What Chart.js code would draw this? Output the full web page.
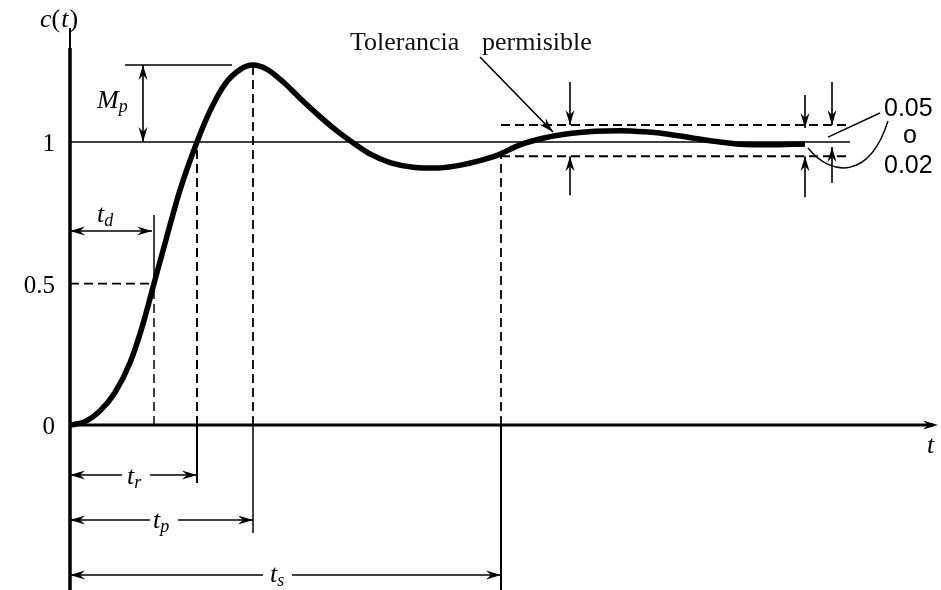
<!DOCTYPE html>
<html>
<head>
<meta charset="utf-8">
<title>Respuesta al escalón</title>
<script src="https://cdn.jsdelivr.net/npm/chart.js@4.4.1/dist/chart.umd.min.js"></script>
<style>
  body { margin: 0; background: #fff; }
</style>
</head>
<body>
<canvas id="respuesta" width="941" height="590"></canvas>
<script>
// c(t) leída punto a punto sobre la curva
var tiempo = [0, 0.15, 0.30, 0.45, 0.60, 0.72, 0.84, 0.96, 1.10, 1.27, 1.40, 1.55, 1.70, 1.83,
	1.97, 2.13, 2.30, 2.50, 2.65, 2.82, 3.00, 3.20, 3.45, 3.65, 3.85, 4.05, 4.27, 4.50, 4.75, 5.00,
	5.25, 5.50, 5.75, 6.00, 6.25, 6.50, 6.75, 7.00, 7.35];
var salida = [0, 0.012, 0.05, 0.115, 0.22, 0.345, 0.5, 0.655, 0.83, 1.0, 1.11, 1.205, 1.256, 1.272,
	1.257, 1.213, 1.155, 1.09, 1.045, 1.0, 0.958, 0.927, 0.91, 0.908, 0.915, 0.93, 0.953, 0.99, 1.015, 1.03,
	1.038, 1.04, 1.036, 1.027, 1.013, 1.0, 0.991, 0.99, 0.993];

// tiempos característicos y banda de tolerancia
var td = 0.84, tr = 1.27, tp = 1.83, ts = 4.31;
var pico = 1.272;
var bandaSup = 1.06, bandaInf = 0.95;
var finBanda = 7.8;
var marcasY = [0, 0.5, 1];
var etiquetasY = ['0', '0.5', '1'];
var flechasBanda = [5.0, 7.35, 7.62];

var serif = "'Liberation Serif', 'DejaVu Serif', serif";
var sans = "'Liberation Sans', 'DejaVu Sans', sans-serif";

function tramo(x1, y1, x2, y2, ancho, guiones) {
	return {
		data: [{x: x1, y: y1}, {x: x2, y: y2}],
		borderColor: '#000',
		borderWidth: ancho,
		borderDash: guiones || [],
		pointRadius: 0,
		fill: false
	};
}

function punta(ctx, x, y, ang) {
	ctx.save();
	ctx.translate(x, y);
	ctx.rotate(ang);
	ctx.beginPath();
	ctx.moveTo(0, 0);
	ctx.lineTo(-15, -4.5);
	ctx.lineTo(-10, 0);
	ctx.lineTo(-15, 4.5);
	ctx.closePath();
	ctx.fill();
	ctx.restore();
}

function flecha(ctx, x1, y1, x2, y2, ini, fin, ancho) {
	ctx.lineWidth = ancho || 1.6;
	ctx.beginPath();
	ctx.moveTo(x1, y1);
	ctx.lineTo(x2, y2);
	ctx.stroke();
	var ang = Math.atan2(y2 - y1, x2 - x1);
	if (fin) punta(ctx, x2, y2, ang);
	if (ini) punta(ctx, x1, y1, ang + Math.PI);
}

function linea(ctx, x1, y1, x2, y2, ancho) {
	ctx.lineWidth = ancho;
	ctx.beginPath();
	ctx.moveTo(x1, y1);
	ctx.lineTo(x2, y2);
	ctx.stroke();
}

// texto con subíndice: letra cursiva + subíndice más pequeño
function sub(ctx, letra, indice, x, y) {
	ctx.font = 'italic 26px ' + serif;
	ctx.fillText(letra, x, y);
	var w = ctx.measureText(letra).width;
	ctx.font = 'italic 18px ' + serif;
	ctx.fillText(indice, x + w, y + 4);
}

var anotaciones = {
	id: 'anotaciones',
	afterDatasetsDraw: function(chart) {
		var ctx = chart.ctx;
		var sx = chart.scales.x, sy = chart.scales.y;
		var X = function(t) { return sx.getPixelForValue(t); };
		var Y = function(v) { return sy.getPixelForValue(v); };
		var area = chart.chartArea;
		var x0 = X(0), y0 = Y(0);

		ctx.save();
		ctx.strokeStyle = '#000';
		ctx.fillStyle = '#000';

		// ejes
		linea(ctx, x0, area.top, x0, area.top + 20, 2);
		linea(ctx, x0, area.top + 20, x0, area.bottom, 3.5);
		linea(ctx, x0, y0, area.right - 2, y0, 3);
		punta(ctx, area.right + 3, y0, 0);

		// prolongaciones bajo el eje y cotas de tiempo
		linea(ctx, X(tr), y0, X(tr), y0 + 58, 2);
		linea(ctx, X(tp), y0, X(tp), y0 + 108, 1.5);
		linea(ctx, X(ts), y0, X(ts), area.bottom, 2);

		flecha(ctx, x0, y0 + 50, X(tr) - 75, y0 + 50, true, false);
		flecha(ctx, X(tr) - 47, y0 + 50, X(tr), y0 + 50, false, true);
		flecha(ctx, x0, y0 + 95, X(tp) - 103, y0 + 95, true, false);
		flecha(ctx, X(tp) - 75, y0 + 95, X(tp), y0 + 95, false, true);
		flecha(ctx, x0, y0 + 150, X(ts) - 238, y0 + 150, true, false);
		flecha(ctx, X(ts) - 209, y0 + 150, X(ts), y0 + 150, false, true);

		sub(ctx, 't', 'r', X(tr) - 70, y0 + 59);
		sub(ctx, 't', 'p', X(tp) - 100, y0 + 103);
		sub(ctx, 't', 's', X(ts) - 231, y0 + 157);

		// retardo td
		linea(ctx, X(td), Y(0.5), X(td), y0 - 210, 1.5);
		flecha(ctx, x0, y0 - 194, X(td) - 2, y0 - 194, true, true);
		sub(ctx, 't', 'd', x0 + 27, y0 - 203);

		// sobreelongación Mp
		linea(ctx, x0 + 55, Y(pico), X(tp) - 21, Y(pico), 1.5);
		flecha(ctx, x0 + 73, Y(pico), x0 + 73, Y(1), true, true);
		sub(ctx, 'M', 'p', x0 + 27, Y(pico) + 43);

		// marcas del eje vertical
		ctx.font = '25px ' + serif;
		ctx.textAlign = 'right';
		for (var i = 0; i < marcasY.length; i++) {
			ctx.fillText(etiquetasY[i], x0 - 15, Y(marcasY[i]) + 9);
		}
		ctx.textAlign = 'left';

		// c(t) y t
		ctx.font = 'italic 26px ' + serif;
		ctx.fillText('c', 40, 27);
		var w = ctx.measureText('c').width;
		ctx.font = '26px ' + serif;
		ctx.fillText('(', 40 + w, 27);
		w += ctx.measureText('(').width;
		ctx.font = 'italic 26px ' + serif;
		ctx.fillText('t', 41 + w, 27);
		w += ctx.measureText('t').width + 1;
		ctx.font = '26px ' + serif;
		ctx.fillText(')', 41 + w, 27);

		ctx.font = 'italic 26px ' + serif;
		ctx.fillText('t', area.right - 8, y0 + 28);

		// tolerancia permisible
		ctx.font = '26px ' + serif;
		ctx.fillStyle = '#111';
		ctx.fillText('Tolerancia', 350, 50);
		ctx.fillText('permisible', 482, 50);
		ctx.fillStyle = '#000';
		flecha(ctx, 480, 57, X(ts) + 52, Y(bandaSup) + 7, false, true, 1.6);

		// flechas de la banda
		var a = X(flechasBanda[0]);
		flecha(ctx, a, Y(bandaSup) - 43, a, Y(bandaSup), false, true);
		flecha(ctx, a, Y(bandaInf) + 39, a, Y(bandaInf), false, true);
		a = X(flechasBanda[1]);
		flecha(ctx, a, Y(bandaSup) - 30, a, Y(bandaSup) + 3, false, true);
		flecha(ctx, a, Y(bandaInf) + 41, a, Y(bandaInf), false, true);
		a = X(flechasBanda[2]);
		flecha(ctx, a, Y(bandaSup) - 43, a, Y(bandaSup), false, true);
		flecha(ctx, a, Y(1) + 41, a, Y(1) + 5, false, true);

		// indicación 0.05 o 0.02
		linea(ctx, X(flechasBanda[2]) - 4, Y(1) - 5, 880, 113, 1.4);
		ctx.lineWidth = 1.4;
		ctx.beginPath();
		ctx.moveTo(888, 121);
		ctx.bezierCurveTo(870, 178, 832, 178, X(flechasBanda[1]) + 3, Y(1) + 6);
		ctx.stroke();

		ctx.font = '25px ' + sans;
		ctx.fillText('0.05', 884, 116);
		ctx.fillText('o', 903, 143);
		ctx.fillText('0.02', 884, 173);

		ctx.restore();
	}
};

var datos = tiempo.map(function(t, i) { return {x: t, y: salida[i]}; });

new Chart(document.getElementById('respuesta'), {
	type: 'line',
	data: {
		datasets: [
			{
				data: datos,
				borderColor: '#000',
				borderWidth: 5.5,
				pointRadius: 0,
				cubicInterpolationMode: 'monotone',
				fill: false
			},
			tramo(0, 1, finBanda, 1, 1.5),
			tramo(ts, bandaSup, finBanda, bandaSup, 2, [9, 5]),
			tramo(ts, bandaInf, finBanda, bandaInf, 2, [9, 5]),
			tramo(0, 0.5, td, 0.5, 1.8, [9, 5]),
			tramo(td, 0, td, 0.5, 1.5, [9, 5]),
			tramo(tr, 0, tr, 1, 2, [9, 5]),
			tramo(tp, 0, tp, pico, 1.8, [9, 5]),
			tramo(ts, 0, ts, bandaInf, 1.8, [9, 5])
		]
	},
	options: {
		responsive: false,
		animation: false,
		events: [],
		layout: { padding: { left: 70, right: 6, top: 28, bottom: 0 } },
		plugins: { legend: { display: false }, tooltip: { enabled: false } },
		scales: {
			x: { type: 'linear', min: 0, max: 8.65, display: false },
			y: { min: -0.583, max: 1.403, display: false }
		}
	},
	plugins: [anotaciones]
});
</script>
</body>
</html>
